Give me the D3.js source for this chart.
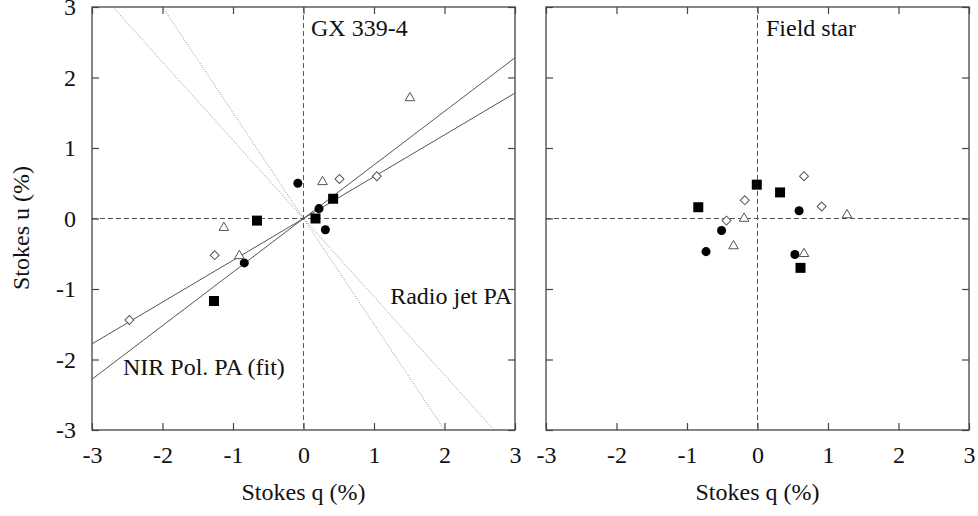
<!DOCTYPE html>
<html>
<head>
<meta charset="utf-8">
<script src="https://cdn.jsdelivr.net/npm/d3@7"></script>
<style>
  body { margin: 0; background: #fff; }
  svg { display: block; }
</style>
</head>
<body>
<div id="chart"></div>
<script>
const gxCircles   = [[-0.08, 0.50], [0.22, 0.14], [0.31, -0.16], [-0.84, -0.63]];
const gxSquares   = [[-0.66, -0.03], [0.17, 0.0], [0.42, 0.28], [-1.27, -1.17]];
const gxTriangles = [[1.51, 1.71], [0.27, 0.52], [-1.13, -0.13], [-0.91, -0.53]];
const gxDiamonds  = [[0.51, 0.56], [1.04, 0.60], [-1.26, -0.52], [-2.47, -1.44]];

const fsSquares   = [[-0.84, 0.16], [-0.01, 0.48], [0.32, 0.37], [0.61, -0.70]];
const fsCircles   = [[0.59, 0.11], [-0.51, -0.17], [-0.73, -0.47], [0.53, -0.51]];
const fsDiamonds  = [[0.66, 0.60], [0.91, 0.17], [-0.18, 0.26], [-0.44, -0.03]];
const fsTriangles = [[1.27, 0.05], [-0.19, 0.0], [-0.34, -0.39], [0.66, -0.50]];

// slopes (u/q) of lines through the origin
const fitSlopes = [0.76, 0.593];   // NIR pol. PA (fit), solid
const jetSlopes = [-1.11, -1.5];   // radio jet PA, dotted

const tickValues = [-3, -2, -1, 0, 1, 2, 3];

const FONT = "Liberation Serif";
const width = 978, height = 516;
const svg = d3.select("#chart").append("svg")
  .attr("width", width)
  .attr("height", height)
  .attr("font-family", FONT);

const plotTop = 7, plotBottom = 430;
const panels = [
  { left: 92, right: 515, name: "GX 339-4", labelX: 311, yLabels: true, id: "p1",
    series: { circle: gxCircles, square: gxSquares, triangle: gxTriangles, diamond: gxDiamonds } },
  { left: 546, right: 969, name: "Field star", labelX: 766, yLabels: false, id: "p2",
    series: { circle: fsCircles, square: fsSquares, triangle: fsTriangles, diamond: fsDiamonds } }
];

// diamond = square turned by 45 degrees (as in the original plot)
const symbols = {
  circle:   { type: d3.symbolCircle,   size: 64,  rot: 0,  fill: "#000", stroke: "none" },
  square:   { type: d3.symbolSquare,   size: 100, rot: 0,  fill: "#000", stroke: "none" },
  triangle: { type: d3.symbolTriangle, size: 40,  rot: 0,  fill: "#fff", stroke: "#555" },
  diamond:  { type: d3.symbolSquare,   size: 40,  rot: 45, fill: "#fff", stroke: "#555" }
};

const fmt = d => String(d);

function label(sel, x, y, txt, anchor) {
  return sel.append("text")
    .attr("x", x).attr("y", y)
    .attr("text-anchor", anchor || "start")
    .attr("font-family", FONT)
    .attr("font-size", 24).attr("fill", "#111")
    .text(txt);
}

panels.forEach((p, i) => {
  const x = d3.scaleLinear().domain([-3, 3]).range([p.left, p.right]);
  const y = d3.scaleLinear().domain([-3, 3]).range([plotBottom, plotTop]);
  const g = svg.append("g");

  g.append("clipPath").attr("id", "clip-" + p.id)
    .append("rect")
    .attr("x", p.left).attr("y", plotTop)
    .attr("width", p.right - p.left).attr("height", plotBottom - plotTop);

  // axes with inward ticks
  g.append("g").attr("transform", `translate(0,${plotBottom})`)
    .call(d3.axisBottom(x).tickValues(tickValues).tickSizeInner(-7).tickSizeOuter(0)
      .tickPadding(16).tickFormat(fmt));
  g.append("g").attr("transform", `translate(0,${plotTop})`)
    .call(d3.axisTop(x).tickValues(tickValues).tickSizeInner(-7).tickSizeOuter(0).tickFormat(""));
  g.append("g").attr("transform", `translate(${p.left},0)`)
    .call(d3.axisLeft(y).tickValues(tickValues).tickSizeInner(-7).tickSizeOuter(0).tickPadding(16)
      .tickFormat(p.yLabels ? fmt : ""));
  g.append("g").attr("transform", `translate(${p.right},0)`)
    .call(d3.axisRight(y).tickValues(tickValues).tickSizeInner(-7).tickSizeOuter(0).tickFormat(""));

  g.selectAll(".domain").remove();
  g.selectAll("g").attr("font-family", FONT);
  g.selectAll(".tick line").attr("stroke", "#444").attr("stroke-width", 1.2);
  g.selectAll(".tick text")
    .attr("font-family", FONT)
    .attr("font-size", 24).attr("fill", "#111");

  // zero lines
  g.append("line")
    .attr("x1", x(0)).attr("x2", x(0)).attr("y1", plotTop).attr("y2", plotBottom)
    .attr("stroke", "#555").attr("stroke-dasharray", "5,3");
  g.append("line")
    .attr("x1", p.left).attr("x2", p.right).attr("y1", y(0)).attr("y2", y(0))
    .attr("stroke", "#555").attr("stroke-dasharray", "5,3");

  if (i === 0) {
    const lines = g.append("g").attr("clip-path", `url(#clip-${p.id})`);
    fitSlopes.forEach(s => {
      lines.append("line")
        .attr("x1", x(-3)).attr("y1", y(-3 * s))
        .attr("x2", x(3)).attr("y2", y(3 * s))
        .attr("stroke", "#555").attr("stroke-width", 1);
    });
    jetSlopes.forEach(s => {
      lines.append("line")
        .attr("x1", x(-3.5 / s)).attr("y1", y(-3.5))
        .attr("x2", x(3.5 / s)).attr("y2", y(3.5))
        .attr("stroke", "#777").attr("stroke-width", 0.8)
        .attr("stroke-dasharray", "1,1.5");
    });
  }

  // markers
  Object.entries(p.series).forEach(([k, pts]) => {
    const sym = symbols[k];
    g.selectAll(".m-" + k).data(pts).enter().append("path")
      .attr("class", "m-" + k)
      .attr("transform", d => `translate(${x(d[0])},${y(d[1])}) rotate(${sym.rot})`)
      .attr("d", d3.symbol().type(sym.type).size(sym.size))
      .attr("fill", sym.fill)
      .attr("stroke", sym.stroke)
      .attr("stroke-width", 1);
  });

  // frame
  g.append("rect")
    .attr("x", p.left).attr("y", plotTop)
    .attr("width", p.right - p.left).attr("height", plotBottom - plotTop)
    .attr("fill", "none").attr("stroke", "#444").attr("stroke-width", 1.3);

  label(g, p.labelX, 36, p.name);
  label(g, (p.left + p.right) / 2, 500, "Stokes q (%)", "middle");
});

// y title
label(svg, 0, 0, "Stokes u (%)", "middle")
  .attr("transform", "translate(29,228) rotate(-90)");

// line annotations
label(svg, 512, 304, "Radio jet PA", "end");
label(svg, 123, 375, "NIR Pol. PA (fit)");
</script>
</body>
</html>
